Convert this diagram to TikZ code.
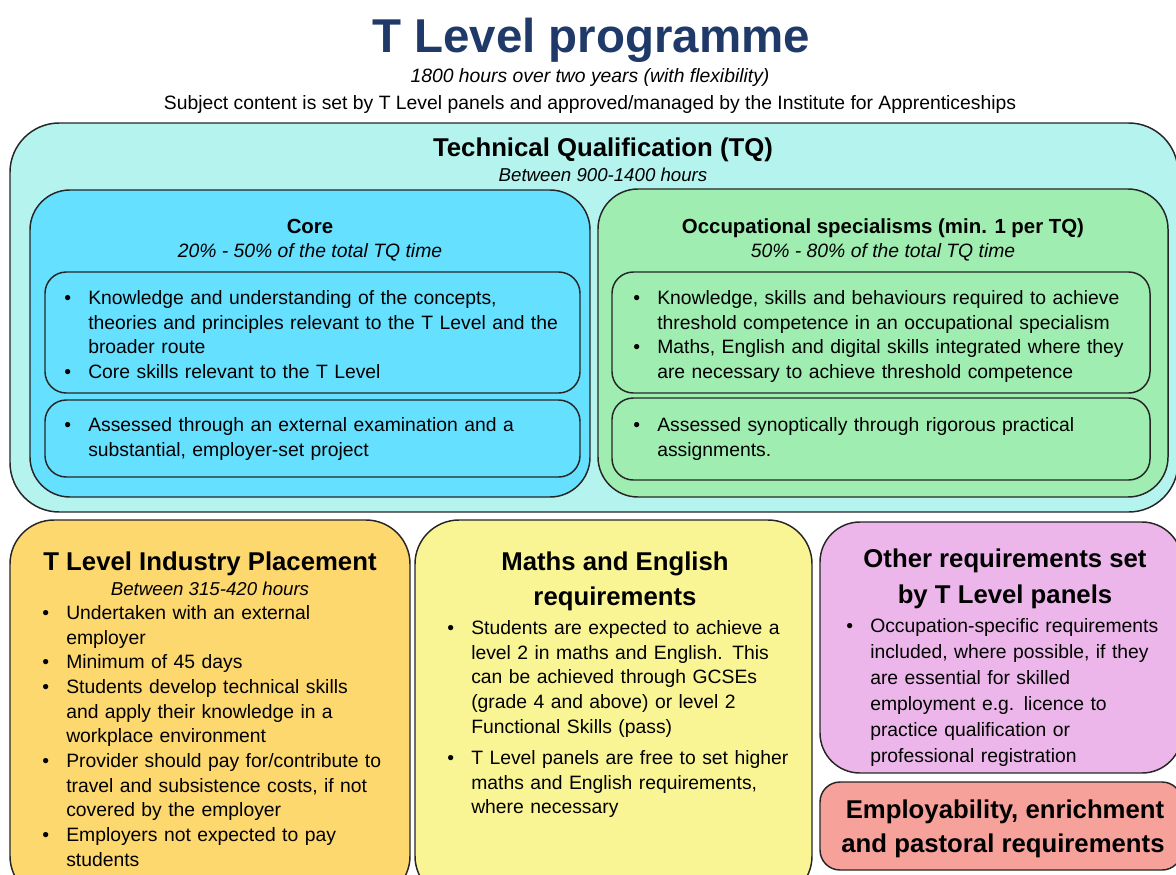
\documentclass[tikz,border=0pt]{standalone}
\usepackage{fontspec}
\setmainfont{Liberation Sans}
\definecolor{titleblue}{HTML}{1F3A68}
\definecolor{tqfill}{HTML}{B4F3EE}
\definecolor{corefill}{HTML}{66E0FF}
\definecolor{occfill}{HTML}{9FEDB1}
\definecolor{placefill}{HTML}{FDD86E}
\definecolor{mathsfill}{HTML}{FAF594}
\definecolor{otherfill}{HTML}{ECB6EA}
\definecolor{empfill}{HTML}{F7A19B}
\definecolor{edgecol}{HTML}{262626}
\newcommand\FtBody{\fontsize{14.5}{18.5}\selectfont}
\newcommand\FtOther{\fontsize{14.5}{19.5}\selectfont}
\newcommand\FtItal{\fontsize{14.5}{18}\selectfont\itshape}
\newcommand\FtItalS{\fontsize{14}{17}\selectfont\itshape}
\newcommand\FtHead{\fontsize{19.3}{24}\selectfont\bfseries}
\newcommand\FtSub{\fontsize{15.3}{18}\selectfont\bfseries}
\newcommand\FtTitle{\fontsize{35.6}{42}\selectfont\bfseries}
\newcommand\bpt[1]{\par\noindent\hangindent=18pt\hangafter=1\makebox[18pt][l]{\textbullet}\strut#1\par}
\begin{document}
\begin{tikzpicture}[x=0.75pt,y=-0.75pt,
  panel/.style={draw=edgecol,line width=1.1pt},
  txt/.style={inner sep=0pt,anchor=base},
  blist/.style={inner sep=0pt,anchor=north west,align=left,text width=#1},
]
\useasboundingbox (0,0) rectangle (1176,874);
\clip (0,0) rectangle (1176,874);
\fill[white] (0,0) rectangle (1176,874);

% panels
\draw[panel,fill=tqfill,rounded corners=37pt] (10,123) rectangle (1178,512);
\draw[panel,fill=corefill,rounded corners=30pt] (30,190) rectangle (590,497);
\draw[panel,fill=corefill,rounded corners=16pt] (45,272) rectangle (580,393);
\draw[panel,fill=corefill,rounded corners=16pt] (45,400) rectangle (580,477);
\draw[panel,fill=occfill,rounded corners=30pt] (598,189) rectangle (1168,497);
\draw[panel,fill=occfill,rounded corners=16pt] (612,272) rectangle (1150,393);
\draw[panel,fill=occfill,rounded corners=16pt] (612,398) rectangle (1150,480);
\draw[panel,fill=placefill,rounded corners=33pt] (10,520) rectangle (410,900);
\draw[panel,fill=mathsfill,rounded corners=33pt] (415,520) rectangle (812,900);
\draw[panel,fill=otherfill,rounded corners=30pt] (820,522) rectangle (1182,773);
\draw[panel,fill=empfill,rounded corners=15pt] (820,782) rectangle (1182,870);

% title
\node[txt,font=\FtTitle,text=titleblue] (title) at (591,53) {T Level programme};
\node[txt,font=\FtItal] (hours) at (590,83) {1800 hours over two years (with flexibility)};
\node[txt,font=\FtBody] (subj) at (590,109) {Subject content is set by T Level panels and approved/managed by the Institute for Apprenticeships};

% TQ
\node[txt,font=\FtHead] (tqT) at (603,156) {Technical Qualification (TQ)};
\node[txt,font=\FtItalS] (tqS) at (603,181) {Between 900-1400 hours};

% Core
\node[txt,font=\FtSub] (coreT) at (310,233) {Core};
\node[txt,font=\FtItal] (coreS) at (310,257) {20\% - 50\% of the total TQ time};
\node[blist=400pt,font=\FtBody] (coreA) at (64,279.7) {%
\bpt{Knowledge and understanding of the concepts,\newline theories and principles relevant to the T Level and the\newline broader route}%
\bpt{Core skills relevant to the T Level}};
\node[blist=400pt,font=\FtBody] (coreB) at (64,406.7) {%
\bpt{Assessed through an external examination and a\newline substantial, employer-set project}};

% Occupational specialisms
\node[txt,font=\FtSub] (occT) at (883,233) {Occupational specialisms (min. 1 per TQ)};
\node[txt,font=\FtItal] (occS) at (883,257) {50\% - 80\% of the total TQ time};
\node[blist=400pt,font=\FtBody] (occA) at (633,279.7) {%
\bpt{Knowledge, skills and behaviours required to achieve\newline threshold competence in an occupational specialism}%
\bpt{Maths, English and digital skills integrated where they\newline are necessary to achieve threshold competence}};
\node[blist=400pt,font=\FtBody] (occB) at (633,406.7) {%
\bpt{Assessed synoptically through rigorous practical\newline assignments.}};

% Industry placement
\node[txt,font=\FtHead] (plT) at (210,570) {T Level Industry Placement};
\node[txt,font=\FtItalS] (plS) at (210,595) {Between 315-420 hours};
\node[blist=290pt,font=\FtBody] (plL) at (42,594.7) {%
\bpt{Undertaken with an external\newline employer}%
\bpt{Minimum of 45 days}%
\bpt{Students develop technical skills\newline and apply their knowledge in a\newline workplace environment}%
\bpt{Provider should pay for/contribute to\newline travel and subsistence costs, if not\newline covered by the employer}%
\bpt{Employers not expected to pay\newline students}};

% Maths and English
\node[txt,font=\FtHead] (mT1) at (615,570) {Maths and English};
\node[txt,font=\FtHead] (mT2) at (615,605) {requirements};
\node[blist=290pt,font=\FtBody] (mL) at (447,609.7) {%
\bpt{Students are expected to achieve a\newline level 2 in maths and English. This\newline can be achieved through GCSEs\newline (grade 4 and above) or level 2\newline Functional Skills (pass)}%
\vspace{5pt}%
\bpt{T Level panels are free to set higher\newline maths and English requirements,\newline where necessary}};

% Other requirements
\node[txt,font=\FtHead] (oT1) at (1005,567) {Other requirements set};
\node[txt,font=\FtHead] (oT2) at (1005,603) {by T Level panels};
\node[blist=290pt,font=\FtOther] (oL) at (846,605.8) {%
\bpt{Occupation-specific requirements\newline included, where possible, if they\newline are essential for skilled\newline employment e.g. licence to\newline practice qualification or\newline professional registration}};

% Employability
\node[txt,font=\FtHead] (e1) at (1005,818) {Employability, enrichment};
\node[txt,font=\FtHead] (e2) at (1003,852) {and pastoral requirements};
\end{tikzpicture}
\end{document}
